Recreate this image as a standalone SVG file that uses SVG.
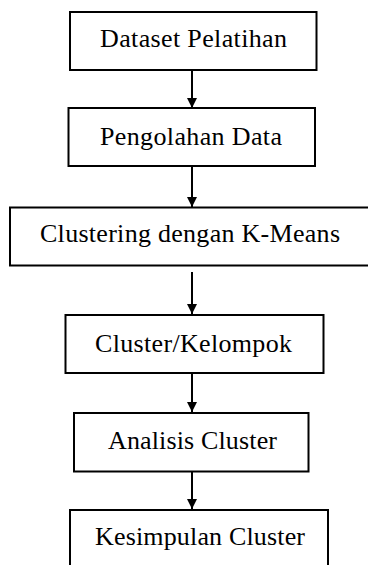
<svg xmlns="http://www.w3.org/2000/svg" width="368" height="565" viewBox="0 0 368 565">
  <style>
    .box { fill: #ffffff; stroke: #000000; stroke-width: 2; }
    .lbl { font-family: "Liberation Serif", "Times New Roman", serif; font-size: 26px; fill: #000000; }
    .conn { stroke: #000000; stroke-width: 2; fill: none; }
  </style>
  <defs>
    <marker id="arrow" viewBox="0 0 10 10" refX="10" refY="5" markerWidth="5" markerHeight="5" markerUnits="strokeWidth" orient="auto">
      <path d="M0,0 L10,5 L0,10 Z" fill="#000000"/>
    </marker>
  </defs>
  <rect width="368" height="565" fill="#ffffff"/>
  <g id="connectors">
    <line class="conn" x1="192" y1="70" x2="192" y2="108" marker-end="url(#arrow)"/>
    <line class="conn" x1="192" y1="166" x2="192" y2="207" marker-end="url(#arrow)"/>
    <line class="conn" x1="192" y1="272" x2="192" y2="314" marker-end="url(#arrow)"/>
    <line class="conn" x1="192" y1="373" x2="192" y2="412" marker-end="url(#arrow)"/>
    <line class="conn" x1="192" y1="471" x2="192" y2="509" marker-end="url(#arrow)"/>
  </g>
  <g id="node1">
    <rect class="box" x="70" y="12" width="246.5" height="58"/>
    <text class="lbl" x="100" y="47" textLength="187" lengthAdjust="spacing">Dataset Pelatihan</text>
  </g>
  <g id="node2">
    <rect class="box" x="68.5" y="108" width="246.5" height="58"/>
    <text class="lbl" x="100" y="145" textLength="182" lengthAdjust="spacing">Pengolahan Data</text>
  </g>
  <g id="node3">
    <rect class="box" x="10" y="207.5" width="370" height="58"/>
    <text class="lbl" x="40" y="242" textLength="300" lengthAdjust="spacing">Clustering dengan K-Means</text>
  </g>
  <g id="node4">
    <rect class="box" x="65.5" y="315" width="258" height="58"/>
    <text class="lbl" x="95" y="352" textLength="197" lengthAdjust="spacing">Cluster/Kelompok</text>
  </g>
  <g id="node5">
    <rect class="box" x="74" y="413" width="234.5" height="58.5"/>
    <text class="lbl" x="108" y="449" textLength="169" lengthAdjust="spacing">Analisis Cluster</text>
  </g>
  <g id="node6">
    <rect class="box" x="70" y="510" width="258" height="70"/>
    <text class="lbl" x="95" y="545" textLength="210" lengthAdjust="spacing">Kesimpulan Cluster</text>
  </g>
</svg>
